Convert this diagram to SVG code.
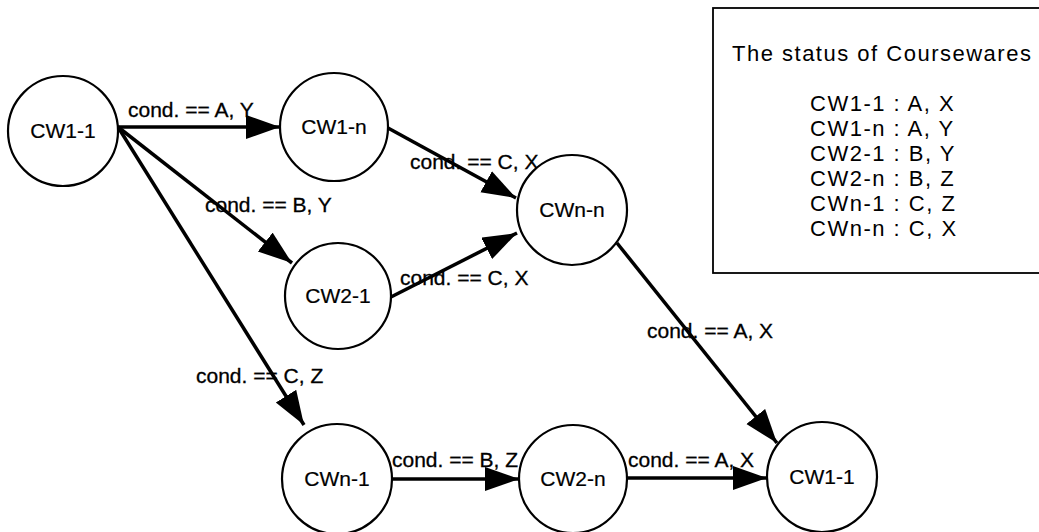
<svg xmlns="http://www.w3.org/2000/svg" width="1039" height="532" viewBox="0 0 1039 532">
  <style>
    .node { fill: #fff; stroke: #000; stroke-width: 2.2; }
    .nlabel { font-family: "Liberation Sans", Arial, sans-serif; font-size: 21px; text-anchor: middle; fill: #000; stroke: #000; stroke-width: 0.2; }
    .edge { stroke: #000; stroke-width: 3.5; fill: none; marker-end: url(#arrow); }
    .elabel { font-family: "Liberation Sans", Arial, sans-serif; font-size: 21px; fill: #000; stroke: #000; stroke-width: 0.3; }
    .legend { font-family: "Liberation Sans", Arial, sans-serif; font-size: 22px; letter-spacing: 1.5px; fill: #000; }
  </style>
  <defs>
    <marker id="arrow" markerUnits="userSpaceOnUse" markerWidth="36" markerHeight="26" refX="34" refY="12" orient="auto">
      <path d="M0,0 L34,12 L0,24 Z" fill="#000"/>
    </marker>
  </defs>
  <rect width="1039" height="532" fill="#fff"/>

  <!-- legend box -->
  <g id="legend">
    <rect x="713" y="8" width="340" height="265" fill="#fff" stroke="#000" stroke-width="1.8"/>
    <text class="legend" x="732" y="61">The status of Coursewares</text>
    <text class="legend" x="810" y="111">CW1-1 : A, X</text>
    <text class="legend" x="810" y="136">CW1-n : A, Y</text>
    <text class="legend" x="810" y="161">CW2-1 : B, Y</text>
    <text class="legend" x="810" y="186">CW2-n : B, Z</text>
    <text class="legend" x="810" y="211">CWn-1 : C, Z</text>
    <text class="legend" x="810" y="236">CWn-n : C, X</text>
  </g>

  <!-- connectors and their conditions -->
  <g id="connectors">
    <line class="edge" x1="118" y1="127" x2="280" y2="127"/>
    <line class="edge" x1="118" y1="127" x2="292" y2="263"/>
    <line class="edge" x1="118" y1="127" x2="304" y2="425"/>
    <line class="edge" x1="388" y1="128" x2="516" y2="198"/>
    <line class="edge" x1="389" y1="298" x2="517" y2="233"/>
    <line class="edge" x1="617" y1="243" x2="777" y2="443"/>
    <line class="edge" x1="392" y1="479" x2="519" y2="479"/>
    <line class="edge" x1="627" y1="478" x2="767" y2="478"/>
    <text class="elabel" x="128" y="117">cond. == A, Y</text>
    <text class="elabel" x="205" y="212">cond. == B, Y</text>
    <text class="elabel" x="196" y="383">cond. == C, Z</text>
    <text class="elabel" x="410" y="169">cond. == C, X</text>
    <text class="elabel" x="400" y="285">cond. == C, X</text>
    <text class="elabel" x="647" y="338">cond. == A, X</text>
    <text class="elabel" x="392" y="467">cond. == B, Z</text>
    <text class="elabel" x="628" y="467">cond. == A, X</text>
  </g>

  <!-- coursewares -->
  <g id="cw1-1-start">
    <circle class="node" cx="63" cy="131" r="55"/>
    <text class="nlabel" x="63" y="138">CW1-1</text>
  </g>
  <g id="cw1-n">
    <circle class="node" cx="334" cy="127" r="54"/>
    <text class="nlabel" x="334" y="134">CW1-n</text>
  </g>
  <g id="cw2-1">
    <circle class="node" cx="338" cy="296" r="53"/>
    <text class="nlabel" x="338" y="303">CW2-1</text>
  </g>
  <g id="cwn-n">
    <circle class="node" cx="572" cy="210" r="55"/>
    <text class="nlabel" x="572" y="217">CWn-n</text>
  </g>
  <g id="cwn-1">
    <circle class="node" cx="337" cy="479" r="55"/>
    <text class="nlabel" x="337" y="486">CWn-1</text>
  </g>
  <g id="cw2-n">
    <circle class="node" cx="573" cy="479" r="54"/>
    <text class="nlabel" x="573" y="486">CW2-n</text>
  </g>
  <g id="cw1-1-end">
    <circle class="node" cx="822" cy="477" r="55"/>
    <text class="nlabel" x="822" y="484">CW1-1</text>
  </g>
</svg>
